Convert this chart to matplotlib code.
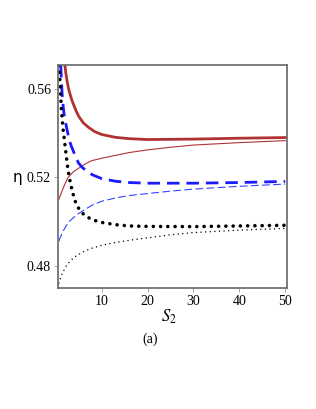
import matplotlib.pyplot as plt

plt.rcParams['font.family'] = ['Liberation Serif', 'DejaVu Serif']

# thick solid red
s_red_thick = [2.0, 2.2, 2.5, 2.8, 3.1, 3.5, 4.0, 4.4, 5.0, 6.0, 7.1, 8.5, 10, 13, 16, 20, 25, 30, 40, 50]
eta_red_thick = [0.571, 0.5675, 0.5635, 0.5603, 0.558, 0.5552, 0.5525, 0.5504, 0.5478, 0.5448,
                 0.5428, 0.5408, 0.5395, 0.5382, 0.5376, 0.5372, 0.5373, 0.5374, 0.5378, 0.5381]
# thin solid red
s_red_thin = [0.7, 1.0, 1.5, 2.0, 2.7, 3.5, 4.0, 5.3, 6.5, 7.8, 10, 13, 16, 20, 25, 30, 40, 50]
eta_red_thin = [0.5101, 0.5118, 0.5145, 0.5170, 0.5200, 0.5218, 0.5228, 0.5246, 0.5262, 0.5276,
                0.5287, 0.5300, 0.5313, 0.5325, 0.5337, 0.5347, 0.5358, 0.5367]
# thick dashed blue
s_blue_thick = [1.1, 1.25, 1.4, 1.6, 1.8, 2.05, 2.36, 2.7, 3.0, 3.4, 3.8, 4.4, 5.0, 5.8, 6.7,
                8, 10, 13, 16, 20, 30, 40, 50]
eta_blue_thick = [0.571, 0.564, 0.558, 0.553, 0.549, 0.5458, 0.5428, 0.5395, 0.5367, 0.5342,
                  0.5322, 0.5290, 0.5265, 0.5245, 0.5231, 0.5212, 0.5195, 0.5183, 0.5177,
                  0.5174, 0.5174, 0.5177, 0.5182]
# thin dashed blue
s_blue_thin = [0.7, 1.0, 1.5, 2.2, 3.1, 4.5, 6, 8, 10, 13, 16, 20, 25, 30, 40, 50]
eta_blue_thin = [0.4911, 0.4928, 0.4952, 0.4978, 0.5003, 0.5030, 0.5050, 0.5075, 0.5092,
                 0.5107, 0.5118, 0.5127, 0.5138, 0.5147, 0.5160, 0.5170]
# thick dotted black
s_blk_thick = [0.7, 0.85, 1.0, 1.26, 1.6, 2.0, 2.3, 2.7, 3.2, 3.8, 4.3, 4.9, 5.8, 7.1, 8.5,
               10, 13, 16, 20, 30, 40, 50]
eta_blk_thick = [0.571, 0.566, 0.561, 0.5504, 0.542, 0.5352, 0.5298, 0.5231, 0.5175, 0.5124,
                 0.5090, 0.5063, 0.5038, 0.5018, 0.5005, 0.4996, 0.4986, 0.4980, 0.4978,
                 0.4977, 0.4980, 0.4983]
# thin dotted black
s_blk_thin = [0.7, 1.0, 1.5, 2.2, 3.1, 4.5, 6.3, 8, 10, 13, 16, 20, 25, 30, 40, 50]
eta_blk_thin = [0.4721, 0.4740, 0.4768, 0.4795, 0.4820, 0.4845, 0.4866, 0.4880, 0.4892,
                0.4905, 0.4915, 0.4926, 0.4940, 0.4950, 0.4961, 0.4969]

x_ticks = [10, 20, 30, 40, 50]
y_ticks = [0.48, 0.52, 0.56]

fig = plt.figure(figsize=(3.16, 4.09), dpi=100)
ax = fig.add_axes([0.1835, 0.2966, 0.7235, 0.5444])

red = '#b03232'
ax.plot(s_red_thick, eta_red_thick, color=red, lw=2.0)
ax.plot(s_red_thin, eta_red_thin, color=red, lw=0.8)
ax.plot(s_blue_thick, eta_blue_thick, color='#1a1aff', lw=2.0, dashes=(4.5, 2.5))
ax.plot(s_blue_thin, eta_blue_thin, color='#3344ff', lw=0.8, dashes=(7, 3))
ax.plot(s_blk_thick, eta_blk_thick, color='black', lw=2.6, dashes=(0.01, 2.0),
        dash_capstyle='round')
ax.plot(s_blk_thin, eta_blk_thin, color='black', lw=1.1, dashes=(0.01, 3.0),
        dash_capstyle='round')

ax.set_xlim(0.5, 50.3)
ax.set_ylim(0.47, 0.571)
ax.set_xticks(x_ticks)
ax.set_yticks(y_ticks)
ax.set_yticklabels(['0.48', '0.52', '0.56'])
ax.tick_params(direction='out', length=3, width=0.6, color='#999999',
               labelsize=10, pad=2)
for sp in ax.spines.values():
    sp.set_color('#666666')
    sp.set_linewidth(1.2)

ax.text(-0.155, 0.52, 'η', transform=ax.get_yaxis_transform(), ha='right', va='center',
        fontsize=11, family='DejaVu Sans')
fig.text(0.535, 0.225, r'$S_2$', ha='center', va='center', fontsize=12,
         math_fontfamily='stix')
fig.text(0.475, 0.171, '(a)', ha='center', va='center', fontsize=10)

fig.savefig('out.png', dpi=100)
